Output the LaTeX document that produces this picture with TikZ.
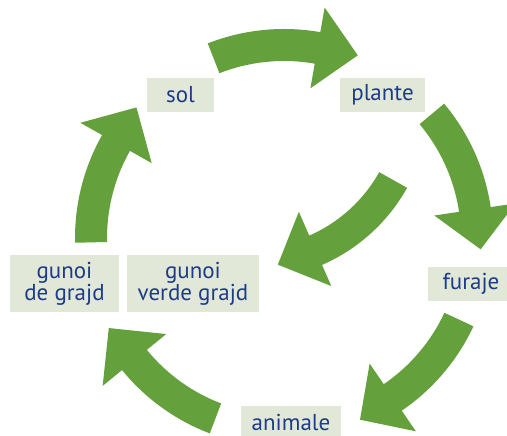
\documentclass[tikz,border=0pt]{standalone}
\usepackage{xcolor}
\usepackage{fontspec}
\setmainfont{PT Sans}
\definecolor{leafgreen}{HTML}{64A03C}
\definecolor{boxgray}{HTML}{E2E8D7}
\definecolor{textblue}{HTML}{1D3C88}

\begin{document}
\begin{tikzpicture}
    [x=1pt,y=1pt,
    box/.style={fill=boxgray,text=textblue,minimum height=34,inner xsep=11,
      align=center,font=\fontsize{23}{20}\selectfont},
    ringarrow/.style={fill=leafgreen}]
    \clip (0,0) rectangle (507,436);
    %labels
    \node[box,minimum width=67] (sol) at (180.5,341) {sol};
    \node[box] (plante) at (382.5,341) {plante};
    \node[box,minimum width=86] (furaje) at (471,152) {furaje};
    \node[box,minimum width=94] (animale) at (291,13) {animale};
    \node[box,minimum width=109,minimum height=57] (gunoi) at (64.5,152.5) {gunoi\\de grajd};
    \node[box,minimum width=130,minimum height=57] (gunoiverde) at (193,152.5) {gunoi\\verde grajd};
    %centres of the arrows
    \coordinate (ring) at (284,198);
    \coordinate (inner) at (250,336);
    %outer cycle
    \begin{scope}[shift={(ring)}]
    \fill[ringarrow] (111.4:209) arc[start angle=111.4,end angle=80,radius=209]
      -- (80:234) -- (68:197) -- (80:152) -- (80:177)
      arc[start angle=80,end angle=111.4,radius=177] -- cycle;
    \fill[ringarrow] (40:209) arc[start angle=40,end angle=8.5,radius=209]
      -- (8.5:234) -- (-3.3:197) -- (8.5:152) -- (8.5:177)
      arc[start angle=8.5,end angle=40,radius=177] -- cycle;
    \fill[ringarrow] (-25:209) arc[start angle=-25,end angle=-55.7,radius=209]
      -- (-55.7:234) -- (-67.3:197) -- (-55.7:152) -- (-55.7:177)
      arc[start angle=-55.7,end angle=-25,radius=177] -- cycle;
    \fill[ringarrow] (249.2:209) arc[start angle=249.2,end angle=219.2,radius=209]
      -- (219.2:234) -- (207.2:197) -- (219.2:152) -- (219.2:177)
      arc[start angle=219.2,end angle=249.2,radius=177] -- cycle;
    \fill[ringarrow] (181.3:209) arc[start angle=181.3,end angle=150.5,radius=209]
      -- (150.5:234) -- (138.5:197) -- (150.5:152) -- (150.5:177)
      arc[start angle=150.5,end angle=181.3,radius=177] -- cycle;
    \end{scope}
    %plante to gunoi verde
    \begin{scope}[shift={(inner)}]
    \fill[ringarrow] (-29.2:180) arc[start angle=-29.2,end angle=-66.4,radius=180]
      -- (-66.4:203) -- (-80.4:167) -- (-66.4:122) -- (-66.4:148)
      arc[start angle=-66.4,end angle=-29.2,radius=148] -- cycle;
    \end{scope}
\end{tikzpicture}
\end{document}
